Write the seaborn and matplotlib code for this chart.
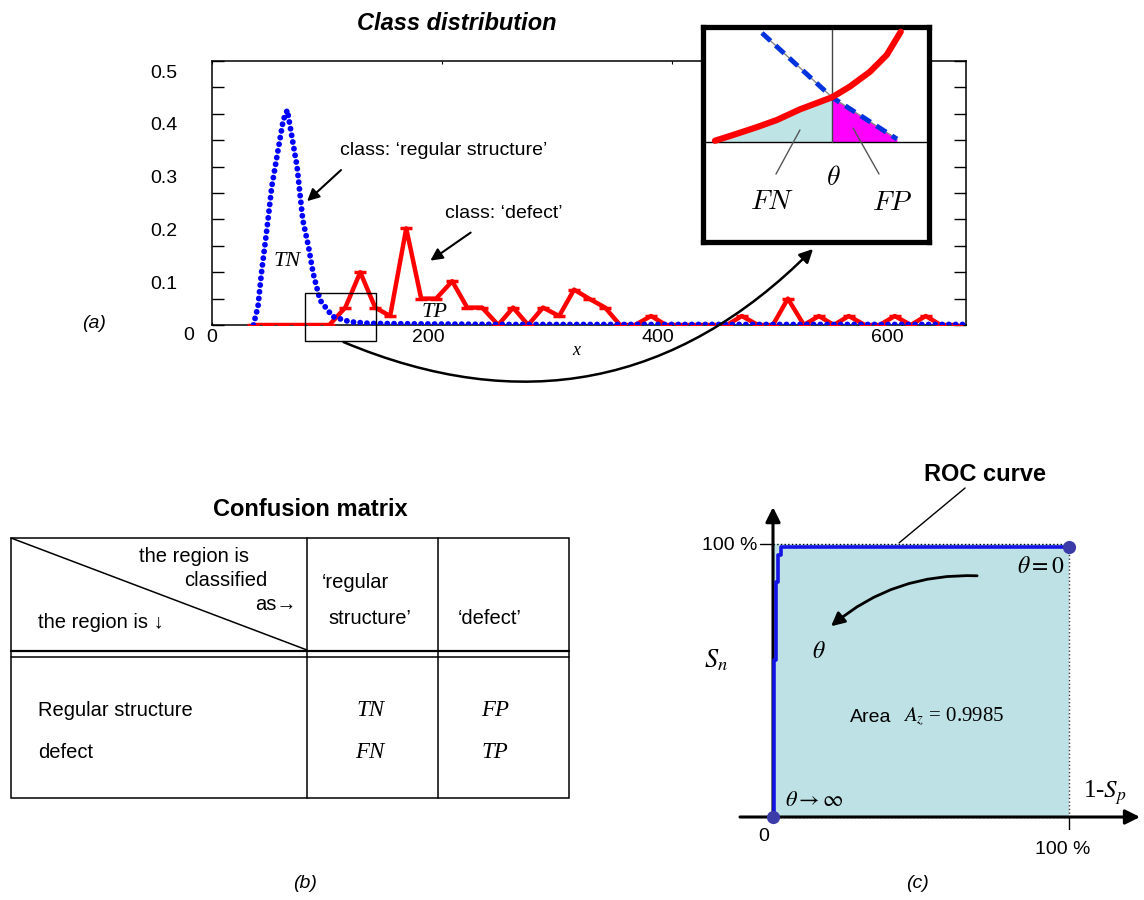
import matplotlib
matplotlib.use("Agg")
import matplotlib.pyplot as plt
import seaborn as sns
from matplotlib.patches import FancyArrowPatch, Rectangle
from matplotlib.transforms import ScaledTranslation

# (a) class distribution: histogram bins of the feature x
bin_x = [36, 49, 62, 76, 89, 102, 116, 129, 142, 155, 169, 182, 195, 209, 222,
         235, 249, 262, 275, 288, 302, 315, 328, 342, 355, 368, 382, 395, 408,
         421, 435, 448, 461, 475, 488, 501, 515, 528, 541, 554, 568, 581, 594,
         608, 621, 634, 648]
defect_y = [0, 0, 0, 0, 0, 0, 0.033, 0.100, 0.033, 0.017, 0.183, 0.050, 0.050,
            0.083, 0.033, 0.033, 0, 0.033, 0, 0.033, 0.017, 0.067, 0.050, 0.033,
            0, 0, 0.017, 0, 0, 0, 0, 0, 0.017, 0, 0, 0.050, 0, 0.017, 0, 0.017,
            0, 0, 0.017, 0, 0.017, 0, 0]
regular_x = [36, 40, 43, 48, 52, 58, 62, 65.5, 69, 74, 76.5, 79, 84, 88, 94,
             105, 120, 137, 180, 260, 656]
regular_y = [0, 0.035, 0.098, 0.186, 0.262, 0.338, 0.388, 0.407, 0.363, 0.300,
             0.249, 0.199, 0.148, 0.098, 0.047, 0.016, 0.006, 0.003, 0.002,
             0.001, 0.001]
y_ticks = [0, 0.1, 0.2, 0.3, 0.4, 0.5]
y_minor = [0.05, 0.15, 0.25, 0.35, 0.45]
x_ticks = [0, 200, 400, 600]

# inset sketch of the threshold (axes fraction units)
inset_red_x = [0.053, 0.134, 0.238, 0.326, 0.429, 0.571, 0.65, 0.739, 0.813, 0.875]
inset_red_y = [0.471, 0.498, 0.534, 0.567, 0.617, 0.673, 0.723, 0.792, 0.87, 0.978]
inset_blue_x = [0.261, 0.571, 0.858]
inset_blue_y = [0.972, 0.673, 0.479]
theta_x = 0.571
inset_base = 0.465

# (c) ROC curve, in percent
roc_fpr = [0, 0.4, 0.4, 1.1, 1.1, 1.8, 1.8, 2.6, 2.6, 100]
roc_tpr = [0, 0, 57.5, 57.5, 86, 86, 96, 96, 98.8, 98.8]
auc = 0.9985

W, H = 1144, 900


def px_box(left, top, right, bottom):
    return [left / W, 1 - bottom / H, (right - left) / W, (bottom - top) / H]


sns.set_theme(style="white")
plt.rcParams["font.family"] = ["Liberation Sans", "DejaVu Sans"]
plt.rcParams["mathtext.fontset"] = "stix"
for key in ["text.color", "axes.labelcolor", "xtick.color", "ytick.color"]:
    plt.rcParams[key] = "black"
SERIF = ["Liberation Serif", "DejaVu Serif"]

fig = plt.figure(figsize=(W / 100, H / 100), dpi=100)
fig.patch.set_facecolor("white")

# ---------------- (a) ----------------
ax = fig.add_axes(px_box(212, 61, 966, 325))
sns.lineplot(x=bin_x, y=defect_y, ax=ax, color="#ff0000", linewidth=3.2,
             marker="_", markersize=9, markeredgewidth=2.5,
             markeredgecolor="#ff0000", zorder=3)
sns.lineplot(x=regular_x, y=regular_y, ax=ax, color="#0000ff", linewidth=4.2,
             linestyle=(0, (0.01, 1.15)), dash_capstyle="round", zorder=4)
ax.set_xlim(0, 656)
ax.set_ylim(0, 0.5)
ax.set_xticks(x_ticks)
ax.set_xticklabels([str(v) for v in x_ticks])
ax.set_yticks(y_ticks)
ax.set_yticklabels(["0", "0.1", "0.2", "0.3", "0.4", "0.5"])
ax.set_yticks(y_minor, minor=True)
ax.tick_params(axis="y", which="both", direction="in", left=True, right=True,
               length=8.6, width=1, color="black", labelsize=14, pad=25)
ax.tick_params(axis="x", direction="in", bottom=True, top=True, length=2.5,
               width=0.8, color="black", labelsize=14, pad=3)
for s in ax.spines.values():
    s.set_linewidth(1.1)
    s.set_color("black")

# the tick labels sit a little off their ticks in the original
for i, lbl in enumerate(ax.get_yticklabels()):
    dx = 16.5 if i == 0 else 0
    dy = -8 if i == 0 else -10
    lbl.set_transform(lbl.get_transform() + ScaledTranslation(dx / 100, dy / 100, fig.dpi_scale_trans))
for i, lbl in enumerate(ax.get_xticklabels()):
    dx = 0 if i == 0 else -14
    lbl.set_transform(lbl.get_transform() + ScaledTranslation(dx / 100, 0, fig.dpi_scale_trans))

arrow_kw = dict(arrowstyle="-|>", color="black", lw=1.5, mutation_scale=18)
ax.text(111, 0.331, "class: \u2018regular structure\u2019", fontsize=14, va="center")
ax.annotate("", xy=(81, 0.231), xytext=(114, 0.297), arrowprops=arrow_kw)
ax.text(203, 0.212, "class: \u2018defect\u2019", fontsize=14, va="center")
ax.annotate("", xy=(188, 0.119), xytext=(227, 0.178), arrowprops=arrow_kw)
ax.text(65, 0.121, "TN", family=SERIF, style="italic", fontsize=16, ha="center", va="center")
ax.text(194, 0.023, "TP", family=SERIF, style="italic", fontsize=16, ha="center", va="center")
ax.text(317, -0.049, "x", family=SERIF, style="italic", fontsize=13, ha="center", va="center")
ax.add_patch(Rectangle((81, -0.0303), 62, 0.0909, fill=False, ec="black", lw=1,
                       clip_on=False, zorder=5))

fig.text(457 / W, 1 - 23 / H, "Class distribution", fontsize=17, weight="bold",
         style="italic", ha="center", va="center")

# inset
axi = fig.add_axes(px_box(703, 27, 929, 242), zorder=6)
axi.set_facecolor("white")
axi.set_xlim(0, 1)
axi.set_ylim(0, 1)
axi.set_xticks([])
axi.set_yticks([])
for s in axi.spines.values():
    s.set_linewidth(3.8)
    s.set_color("black")
fn_x = [v for v in inset_red_x if v <= theta_x]
fn_y = inset_red_y[:len(fn_x)]
axi.fill_between(fn_x, fn_y, inset_base, color="#bfe4e6", lw=0, zorder=1)
axi.fill_between(inset_blue_x[1:], inset_blue_y[1:], inset_base, color="#ff00ff", lw=0, zorder=1)
axi.axhline(inset_base, color="black", lw=1, zorder=2)
axi.plot([theta_x, theta_x], [inset_base, 0.985], color="#444444", lw=1, zorder=2)
axi.plot(inset_blue_x, inset_blue_y, color="#888888", lw=1, zorder=3)
sns.lineplot(x=inset_blue_x, y=inset_blue_y, ax=axi, color="#0033dd", linewidth=3.5,
             linestyle=(0, (2.4, 1.4)), zorder=4)
sns.lineplot(x=inset_red_x, y=inset_red_y, ax=axi, color="#ff0000", linewidth=4.5,
             solid_capstyle="round", zorder=5)
axi.plot([0.323, 0.429], [0.316, 0.521], color="#555555", lw=1, zorder=6)
axi.plot([0.779, 0.664], [0.316, 0.53], color="#555555", lw=1, zorder=6)
axi.text(0.575, 0.298, r"$\theta$", math_fontfamily="cm", fontsize=20, ha="center", va="center")
axi.text(0.305, 0.186, r"$FN$", math_fontfamily="cm", fontsize=20, ha="center", va="center")
axi.text(0.84, 0.181, r"$FP$", math_fontfamily="cm", fontsize=20, ha="center", va="center")
axi.set_xlabel("")
axi.set_ylabel("")

# ---------------- (c) ROC ----------------
axr = fig.add_axes(px_box(740, 500, 1140, 830))
axr.set_xlim(-11.15, 124.0)
axr.set_ylim(-4.76, 116.1)
axr.fill_between([0, 100], 0, 100, color="#bde1e4", lw=0, zorder=1)
axr.plot([0, 100], [100, 100], color="black", lw=1, ls=":", zorder=2)
axr.plot([100, 100], [0, 100], color="#333333", lw=1, ls=":", zorder=2)
axr.plot([0, 100], [0, 0], color="black", lw=1, ls=":", zorder=2)
axr.plot([-4.4, 0], [100, 100], color="black", lw=1, zorder=2)
axr.plot([100, 100], [0, -4.8], color="black", lw=1, zorder=2)
axis_kw = dict(arrowstyle="-|>", color="black", lw=2.2, mutation_scale=22,
               shrinkA=0, shrinkB=0)
axr.annotate("", xy=(124, 0), xytext=(-11.15, 0), arrowprops=axis_kw)
axr.annotate("", xy=(0, 113.5), xytext=(0, -0.5), arrowprops=axis_kw)
sns.lineplot(x=roc_fpr, y=roc_tpr, ax=axr, estimator=None, sort=False,
             color="#1414e6", linewidth=2.6, zorder=4)
sns.scatterplot(x=[roc_fpr[0], roc_fpr[-1]], y=[roc_tpr[0], roc_tpr[-1]], ax=axr,
                color="#3c3ca8", s=90, linewidth=0, zorder=5)
axr.axis("off")

axr.text(-5.4, 99.3, "100 %", fontsize=14, ha="right", va="center")
axr.text(-3, -7.3, "0", fontsize=14, ha="center", va="center")
axr.text(98, -12, "100 %", fontsize=14, ha="center", va="center")
axr.text(71.6, 125.3, "ROC curve", fontsize=17, weight="bold", ha="center", va="center")
axr.plot([64.9, 42.6], [120.5, 100.4], color="black", lw=1, clip_on=False)
axr.text(98.6, 91.6, r"$\theta = 0$", fontsize=17, ha="right", va="center")
axr.annotate("", xy=(18.9, 69.2), xytext=(69.9, 88.3),
             arrowprops=dict(arrowstyle="-|>", color="black", lw=2, mutation_scale=20,
                             connectionstyle="arc3,rad=0.2"))
axr.text(15.5, 60.4, r"$\theta$", fontsize=17, ha="center", va="center")
axr.text(26, 36.6, "Area", fontsize=14, ha="left", va="center")
axr.text(43.9, 36.6, r"$A_{z}$ = %.4f" % auc, family=SERIF, fontsize=15, ha="left", va="center")
axr.text(4.1, 6.2, r"$\theta \rightarrow \infty$", fontsize=16, ha="left", va="center")
axr.text(104.7, 8.8, r"1-$S_p$", family=SERIF, fontsize=18, ha="left", va="center")
axr.text(-19.3, 57.5, r"$S_n$", fontsize=19, ha="center", va="center")

# ---------------- overlay: (b) table, labels, link arrow ----------------
cv = fig.add_axes([0, 0, 1, 1], zorder=5)
cv.set_xlim(0, W)
cv.set_ylim(H, 0)
cv.axis("off")

cv.add_patch(FancyArrowPatch((341, 341), (815, 247), connectionstyle="arc3,rad=0.34",
                             arrowstyle="-|>", mutation_scale=20, lw=1.8, color="black"))
cv.text(94, 324, "(a)", fontsize=14, style="italic", ha="center", va="center")
cv.text(305, 883, "(b)", fontsize=14, style="italic", ha="center", va="center")
cv.text(917, 883, "(c)", fontsize=14, style="italic", ha="center", va="center")

line_kw = dict(color="black", lw=1.1)
cv.add_patch(Rectangle((11, 538), 558, 260, fill=False, ec="black", lw=1.1))
cv.plot([307, 307], [538, 798], **line_kw)
cv.plot([438, 438], [538, 798], **line_kw)
cv.plot([11, 569], [651, 651], color="black", lw=1.6)
cv.plot([11, 569], [657, 657], **line_kw)
cv.plot([11, 307], [538, 650], **line_kw)
cv.text(310, 510, "Confusion matrix", fontsize=17, weight="bold", ha="center", va="center")
cv.text(249, 557, "the region is", fontsize=14.5, ha="right", va="center")
cv.text(267, 580, "classified", fontsize=14.5, ha="right", va="center")
cv.text(297, 605, "as\u2192", fontsize=14.5, ha="right", va="center")
cv.text(38, 623, "the region is \u2193", fontsize=14.5, ha="left", va="center")
cv.text(322, 583, "\u2018regular", fontsize=14.5, ha="left", va="center")
cv.text(328, 618, "structure\u2019", fontsize=14.5, ha="left", va="center")
cv.text(458, 618, "\u2018defect\u2019", fontsize=14.5, ha="left", va="center")
cv.text(38, 710, "Regular structure", fontsize=14.5, ha="left", va="center")
cv.text(38, 752, "defect", fontsize=14.5, ha="left", va="center")
for label, cx, cy in [("TN", 370, 710), ("FP", 495, 710), ("FN", 370, 752), ("TP", 495, 752)]:
    cv.text(cx, cy, label, family=SERIF, style="italic", fontsize=16.5,
            ha="center", va="center")

fig.savefig("out.png", dpi=100)
